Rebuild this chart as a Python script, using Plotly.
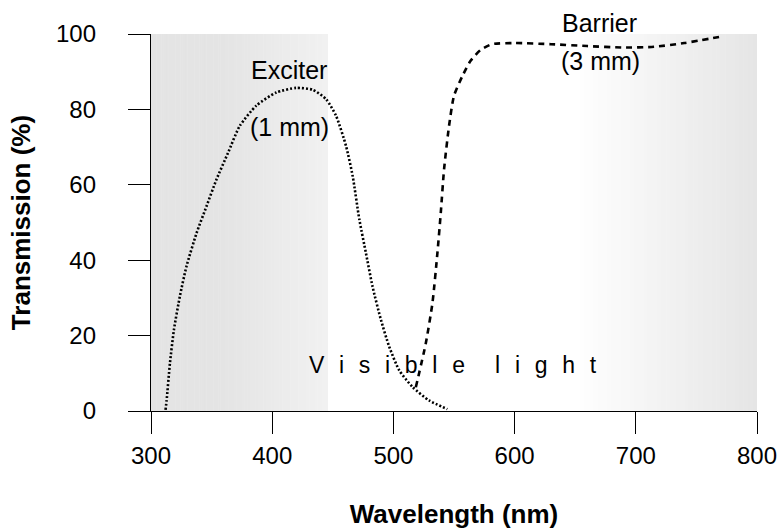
import plotly.graph_objects as go

# ---- data ----
exciter_x = [312.0, 312.9, 315.6, 318.9, 323.8, 329.3, 337.6, 345.8, 354.0, 363.6, 373.2,
             386.9, 403.4, 419.8, 433.5, 444.5, 452.7, 461.0, 466.4, 471.9, 477.4,
             482.8, 489.7, 496.5, 504.8, 515.7, 529.4, 544.5]
exciter_y = [0.3, 2.8, 12.6, 21.5, 30.4, 38.4, 47.2, 54.3, 61.4, 68.5, 75.6,
             81.0, 84.5, 85.7, 85.2, 82.7, 78.3, 70.2, 62.3, 50.8, 41.8,
             33.0, 24.2, 17.1, 10.8, 6.4, 2.8, 0.5]

barrier_x = [518.5, 526.7, 532.2, 536.3, 539.1, 541.8, 545.9, 550.0, 557.0, 563.7,
             572.0, 581.5, 600.0, 630.0, 660.0, 690.0, 715.0, 740.0, 772.0]
barrier_y = [6.3, 17.9, 28.6, 41.9, 52.6, 64.1, 75.6, 83.6, 88.9, 92.9,
             95.8, 97.3, 97.6, 97.3, 96.8, 96.4, 96.6, 97.6, 99.4]

x_ticks = [300, 400, 500, 600, 700, 800]
y_ticks = [0, 20, 40, 60, 80, 100]

x_title = "Wavelength (nm)"
y_title = "Transmission (%)"

NB = "\u00a0"
THIN = "\u2009"
HAIR = "\u200a"
LETTER_GAP = NB * 2 + HAIR
WORD_GAP = NB * 4 + THIN
visible_text = LETTER_GAP.join("Visible") + WORD_GAP + LETTER_GAP.join("light")

# (text, x, y, font size)
labels = [
    ("Exciter", 413.5, 90.5, 25),
    ("(1 mm)", 414.0, 75.3, 25),
    ("Barrier", 670.0, 102.8, 25),
    ("(3 mm)", 671.0, 92.8, 25),
    (visible_text, 549.0, 12.3, 23),
]

# shaded regions: (x0, x1, grey at x0, grey at x1)
shade_regions = [
    (300, 357, 228, 228),
    (357, 446, 228, 241),
    (650, 800, 255, 229),
]

X_RANGE = [300, 800]
Y_RANGE = [0, 100]

FONT = "Liberation Sans, Arial, Helvetica, sans-serif"

fig = go.Figure()

shapes = []
for x0, x1, c0, c1 in shade_regions:
    n = 40
    for i in range(n):
        a = x0 + (x1 - x0) * i / n
        b = x0 + (x1 - x0) * (i + 1) / n
        t = (i + 0.5) / n
        c = round(c0 + (c1 - c0) * t)
        shapes.append(dict(type="rect", xref="x", yref="y",
                           x0=a, x1=min(b + 0.4, x1), y0=Y_RANGE[0], y1=Y_RANGE[1],
                           fillcolor=f"rgb({c},{c},{c})",
                           line=dict(width=0), layer="below"))

fig.add_trace(go.Scatter(
    x=exciter_x, y=exciter_y, mode="lines",
    line=dict(color="black", width=2.6, dash="2px,2px", shape="spline", smoothing=0.6),
    showlegend=False, hoverinfo="skip"))

fig.add_trace(go.Scatter(
    x=barrier_x, y=barrier_y, mode="lines",
    line=dict(color="black", width=2.6, dash="6px,5px", shape="spline", smoothing=0.6),
    showlegend=False, hoverinfo="skip"))

annotations = []
for text, x, y, size in labels:
    # y given in data units; convert to paper fraction so labels above the
    # axis range are still drawn
    yp = (y - Y_RANGE[0]) / (Y_RANGE[1] - Y_RANGE[0])
    annotations.append(dict(x=x, y=yp, xref="x", yref="paper", text=text,
                            showarrow=False, xanchor="center", yanchor="middle",
                            font=dict(family=FONT, size=size, color="black")))

axis_common = dict(
    showgrid=False, zeroline=False, showline=True, linecolor="black", linewidth=1.3,
    ticks="outside", ticklen=22, tickwidth=1.3, tickcolor="black",
    tickfont=dict(family=FONT, size=24, color="black"),
    automargin=False,
)

fig.update_layout(
    width=781, height=530,
    margin=dict(l=151, r=24, t=34, b=119),
    paper_bgcolor="white", plot_bgcolor="white",
    shapes=shapes, annotations=annotations,
    xaxis=dict(range=X_RANGE, tickvals=x_ticks, ticklabelstandoff=1,
               title=dict(text=x_title, standoff=36,
                          font=dict(family=FONT, size=26, color="black", weight="bold")),
               **axis_common),
    yaxis=dict(range=Y_RANGE, tickvals=y_ticks, ticklabelstandoff=27,
               title=dict(text=y_title, standoff=17,
                          font=dict(family=FONT, size=26, color="black", weight="bold")),
               **axis_common),
)

fig.write_html("out.html")
